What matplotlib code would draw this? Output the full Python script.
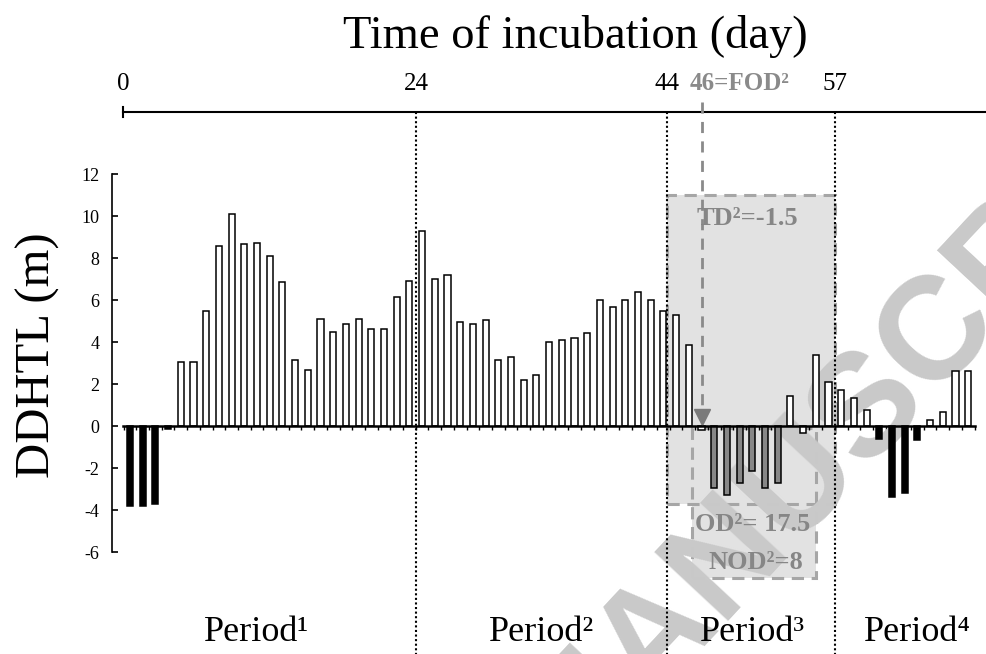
import numpy as np
import matplotlib.pyplot as plt
from matplotlib.patches import Rectangle

# DDHTL (m) per bar
ddhtl = [-3.8, -3.8, -3.7, -0.15, 3.05, 3.05, 5.5, 8.55, 10.1, 8.65,
         8.7, 8.1, 6.85, 3.15, 2.65, 5.1, 4.5, 4.85, 5.1, 4.6,
         4.6, 6.15, 6.9, 9.3, 7.0, 7.2, 4.95, 4.85, 5.05, 3.15,
         3.3, 2.2, 2.45, 4.0, 4.1, 4.2, 4.45, 6.0, 5.65, 6.0,
         6.4, 6.0, 5.5, 5.3, 3.85, -0.2, -2.95, -3.3, -2.7, -2.15,
         -2.95, -2.7, 1.45, -0.35, 3.4, 2.1, 1.7, 1.35, 0.75, -0.6,
         -3.4, -3.2, -0.65, 0.3, 0.65, 2.6, 2.6]
# b = black (negative outside period 3), g = grey (oscillation), w = white
bar_kind = list("b" * 4 + "w" * 42 + "g" * 6 + "w" * 7 + "b" * 4 + "w" * 4)
kind_color = {"b": "black", "g": "#878787", "w": "white"}

day_labels = ["0", "24", "44", "57"]
day_pos = [-0.55, 22.52, 42.3, 55.5]   # in bar-index units
fod_label = "46=FOD²"
fod_pos = 45.04
period_labels = ["Period¹", "Period²", "Period³", "Period⁴"]
period_pos = [10.0, 32.4, 49.0, 62.0]
yticks = list(range(-6, 13, 2))

serif = ["Liberation Serif", "DejaVu Serif"]
plt.rcParams["font.family"] = serif

fig = plt.figure(figsize=(9.86, 6.54), dpi=100)
ax = fig.add_axes([112 / 986, 0, 874 / 986, 1])
ax.set_xlim(-1.417, 67.4)
ax.set_ylim(-10.857, 20.286)

idx = np.arange(len(ddhtl))
colors = [kind_color[k] for k in bar_kind]
ax.bar(idx, ddhtl, width=0.48, color=colors, edgecolor="black", linewidth=1.1, zorder=3)

# spines / ticks
for s in ["top", "right"]:
    ax.spines[s].set_visible(False)
ax.spines["left"].set_bounds(-6, 12)
ax.spines["left"].set_linewidth(1.2)
ax.spines["bottom"].set_position(("data", 0))
ax.spines["bottom"].set_bounds(-0.55, 66.5)
ax.spines["bottom"].set_linewidth(1.8)
ax.spines["bottom"].set_zorder(4)
ax.set_yticks(yticks)
ax.set_yticklabels([str(t) for t in yticks], fontsize=13)
ax.tick_params(axis="y", direction="in", length=4, width=1.2, pad=9)
ax.set_xticks(np.arange(-0.5, len(ddhtl), 1))
ax.set_xticklabels([])
ax.tick_params(axis="x", direction="out", length=3, width=1)

# shaded boxes (TD and OD/NOD)
box_td = (42.3, -3.71, 55.5 - 42.3, 11.0 + 3.71)
box_od = (44.25, -7.24, 54.0 - 44.25, 7.14)
for b in [box_od, box_td]:
    ax.add_patch(Rectangle(b[:2], b[2], b[3], facecolor="#e2e2e2", edgecolor="none", zorder=1))
for b in [box_od, box_td]:
    ax.add_patch(Rectangle(b[:2], b[2], b[3], fill=False, edgecolor="#a6a6a6",
                           linestyle=(0, (4, 2.5)), linewidth=2.2, zorder=1.5))

# watermark
ax.text(868 / 986, 1 - 405 / 654, "MANUSCRIPT", transform=fig.transFigure,
        fontsize=105, fontweight="bold", family="Liberation Sans", color="#c9c9c9",
        rotation=47, rotation_mode="anchor", ha="center", va="center", zorder=2)

gtxt = dict(color="#868686", fontsize=19, fontweight="bold", ha="center", va="center", zorder=5)
ax.text(48.6, 9.9, "TD²=-1.5", **gtxt)
ax.text(49.0, -4.71, "OD²= 17.5", **gtxt)
ax.text(49.3, -6.48, "NOD²=8", **gtxt)

# top time axis
top_y = 14.95
ax.plot([-0.55, 67.4], [top_y, top_y], color="black", lw=1.5, clip_on=False)
ax.plot([-0.55, -0.55], [top_y - 0.25, top_y + 0.25], color="black", lw=1.5)
for lab, p in zip(day_labels, day_pos):
    ax.text(p, 16.3, lab, ha="center", va="center", fontsize=18)
    if lab != "0":
        ax.plot([p, p], [top_y, -10.857], color="black", lw=1.5,
                linestyle=(0, (1, 1.2)), zorder=2.5)
ax.text(fod_pos - 1.0, 16.3, fod_label, ha="left", va="center", fontsize=18,
        fontweight="bold", color="#8a8a8a")
ax.plot([fod_pos, fod_pos], [top_y + 0.5, 0.9], color="#8a8a8a", lw=2,
        linestyle=(0, (4, 3)), zorder=4)
ax.plot(fod_pos, 0.45, marker="v", markersize=11, color="#7a7a7a", zorder=4)

for lab, p in zip(period_labels, period_pos):
    ax.text(p, -9.81, lab, ha="center", va="center", fontsize=26)

fig.text(575 / 986, 1 - 37 / 654, "Time of incubation (day)", ha="center", va="center", fontsize=33.5)
fig.text(38 / 986, 1 - 355 / 654, "DDHTL (m)", rotation=90, ha="center", va="center", fontsize=35)

fig.savefig("out.png", dpi=100)
